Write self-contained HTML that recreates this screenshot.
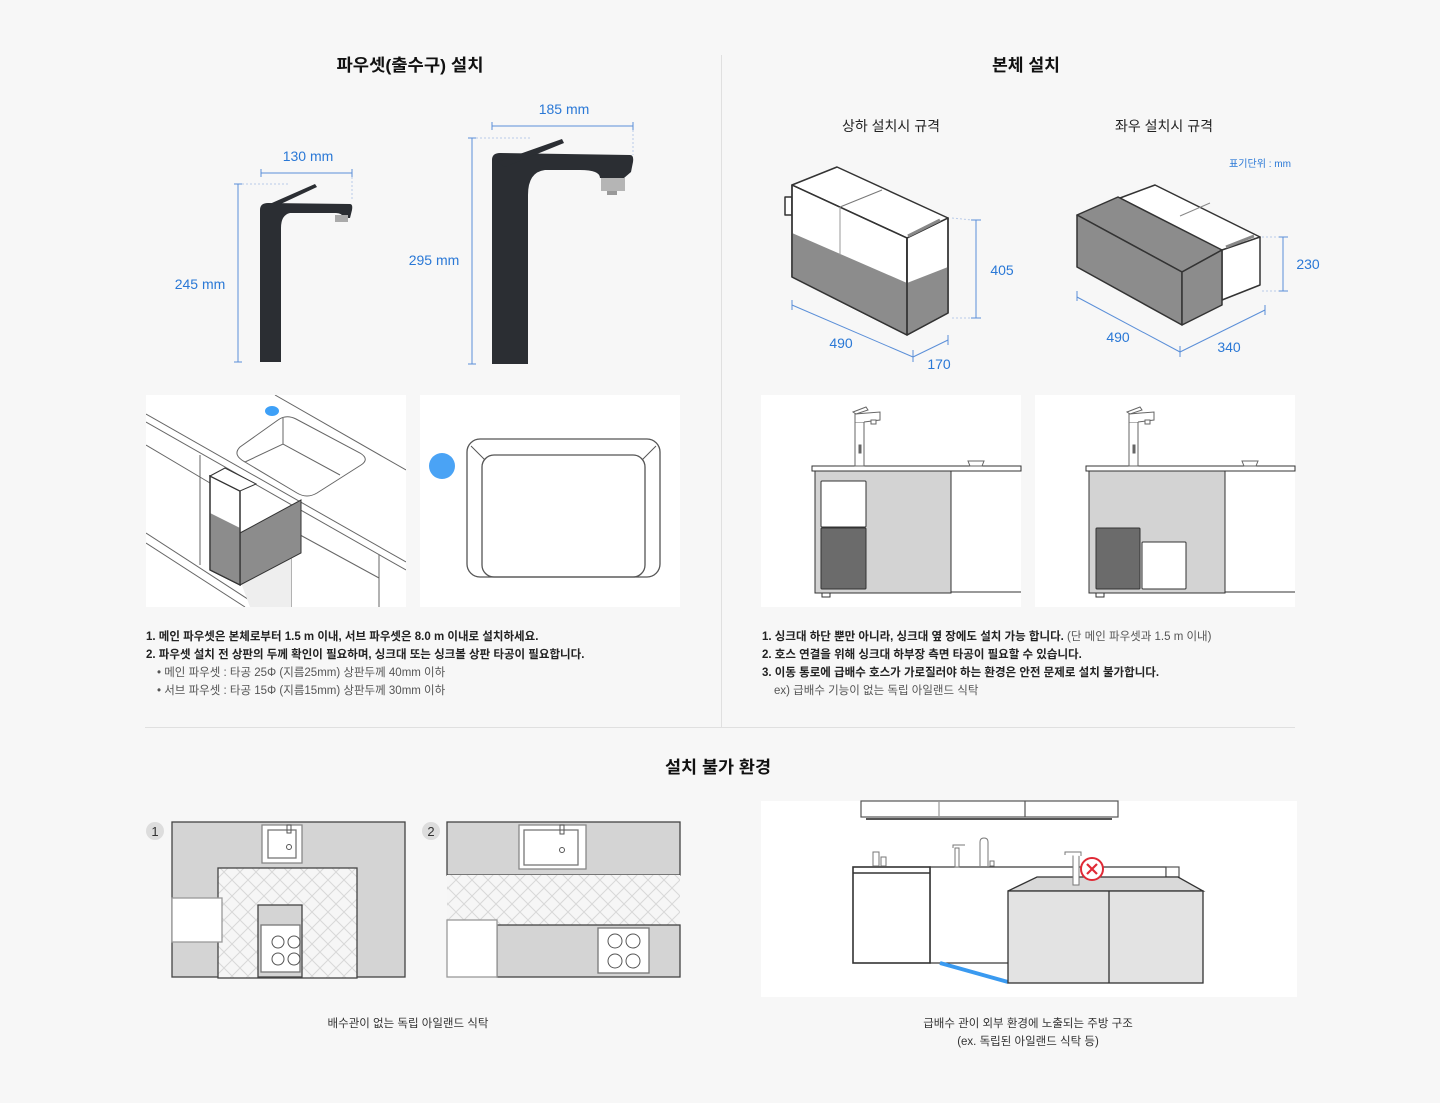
<!DOCTYPE html>
<html><head><meta charset="utf-8">
<style>
html,body{margin:0;padding:0;background:#f7f7f7;}
svg{display:block;}
text{font-family:"Liberation Sans","Noto Sans CJK KR",sans-serif;}
.t{font-size:17px;font-weight:bold;fill:#111;}
.s{font-size:14px;fill:#222;}
.b{font-size:14px;fill:#2a78d6;}
.n{font-size:11.5px;fill:#222;font-weight:bold;}
.g{font-size:11.5px;fill:#555;}
</style></head>
<body>
<svg width="1440" height="1103" viewBox="0 0 1440 1103" xmlns="http://www.w3.org/2000/svg">
<defs>
<pattern id="hb" width="16" height="16" patternUnits="userSpaceOnUse">
<rect width="16" height="16" fill="#f6f6f6"/>
<path d="M0 8 L8 0 M8 16 L16 8 M0 8 L8 16 M8 0 L16 8" stroke="#d8d8d8" stroke-width="1" fill="none"/>
</pattern>
</defs>
<rect width="1440" height="1103" fill="#f7f7f7"/>
<line x1="721.5" y1="55" x2="721.5" y2="727" stroke="#e0e0e0"/>
<line x1="145" y1="727.5" x2="1295" y2="727.5" stroke="#e0e0e0"/>

<text class="t" x="410" y="71" text-anchor="middle" textLength="147" lengthAdjust="spacingAndGlyphs">파우셋(출수구) 설치</text>
<text class="t" x="1026" y="71" text-anchor="middle" textLength="68" lengthAdjust="spacingAndGlyphs">본체 설치</text>
<text class="t" x="718" y="773" text-anchor="middle" textLength="106" lengthAdjust="spacingAndGlyphs">설치 불가 환경</text>
<text class="s" x="891" y="131" text-anchor="middle" textLength="98" lengthAdjust="spacingAndGlyphs">상하 설치시 규격</text>
<text class="s" x="1164" y="131" text-anchor="middle" textLength="98" lengthAdjust="spacingAndGlyphs">좌우 설치시 규격</text>
<text x="1291" y="167" text-anchor="end" style="font-size:10px;fill:#2a78d6" textLength="62" lengthAdjust="spacingAndGlyphs">표기단위 : mm</text>

<!-- small faucet -->
<g stroke="#5b8fd8" stroke-width="1" fill="none">
<line x1="238" y1="184" x2="238" y2="362"/><line x1="234" y1="184" x2="242" y2="184"/><line x1="234" y1="362" x2="242" y2="362"/>
<line x1="261" y1="173" x2="352" y2="173"/><line x1="261" y1="169" x2="261" y2="177"/><line x1="352" y1="169" x2="352" y2="177"/>
<line x1="472" y1="138" x2="472" y2="364"/><line x1="468" y1="138" x2="476" y2="138"/><line x1="468" y1="364" x2="476" y2="364"/>
<line x1="492" y1="126" x2="633" y2="126"/><line x1="492" y1="122" x2="492" y2="130"/><line x1="633" y1="122" x2="633" y2="130"/>
<g stroke-dasharray="2 2" stroke="#b9cbe8"><line x1="242" y1="184" x2="290" y2="184"/><line x1="476" y1="138" x2="530" y2="138"/><line x1="352" y1="177" x2="352" y2="200"/><line x1="633" y1="130" x2="633" y2="155"/></g>
</g>
<text class="b" x="200" y="289" text-anchor="middle">245 mm</text>
<text class="b" x="308" y="161" text-anchor="middle">130 mm</text>
<text class="b" x="434" y="265" text-anchor="middle">295 mm</text>
<text class="b" x="564" y="114" text-anchor="middle">185 mm</text>

<g fill="#2b2e33">
<path d="M260 210 Q260 203 268 203 L350 204 Q353 204 352 210 L350 218 L344 218 Q342 213 336 213 L290 213 Q281 215 281 228 L281 362 L260 362 Z"/>
<path d="M265 206 L315 184 L317 187 L270 209 Z"/>
<path d="M492 160 Q492 153 500 153 L630 155 Q634 155 633 162 L631 172 L624 178 L600 178 Q600 170 580 170 L545 170 Q528 172 528 195 L528 364 L492 364 Z"/>
<path d="M497 162 L562 139 L564 143 L505 167 Z"/>
</g>
<rect x="335" y="215" width="13" height="7" fill="#aaa"/>
<rect x="601" y="178" width="24" height="13" fill="#b5b5b5"/><rect x="607" y="191" width="10" height="4" fill="#999"/>

<!-- boxes -->
<g stroke="#333" stroke-width="1.5" stroke-linejoin="round">
<rect x="785" y="197" width="7" height="18" fill="#fff"/>
<polygon points="792,185 837,167 948,218 907,238" fill="#fff"/>
<polygon points="792,185 907,238 907,335 792,277" fill="#fff"/>
<polygon points="907,238 948,218 948,313 907,335" fill="#fff"/>
<polygon points="792,233 907,283 907,335 792,277" fill="#8c8c8c" stroke="none"/>
<polygon points="907,283 948,267 948,313 907,335" fill="#8c8c8c" stroke="none"/>
<polygon points="792,185 907,238 907,335 792,277" fill="none"/>
<polygon points="907,238 948,218 948,313 907,335" fill="none"/>
</g>
<line x1="840" y1="207" x2="840" y2="255" stroke="#999"/><line x1="840" y1="207" x2="882" y2="190" stroke="#777"/>
<line x1="908" y1="236" x2="940" y2="220" stroke="#888" stroke-width="3"/>

<g stroke="#333" stroke-width="1.5" stroke-linejoin="round">
<polygon points="1120,198 1155,185 1260,237 1222,252" fill="#fff"/>
<polygon points="1222,250 1260,237 1260,285 1222,300" fill="#fff"/>
<polygon points="1077,215 1118,197 1222,250 1182,272" fill="#8c8c8c"/>
<polygon points="1077,215 1182,272 1182,325 1077,267" fill="#8c8c8c"/>
<polygon points="1182,272 1222,250 1222,305 1182,325" fill="#8c8c8c"/>
</g>
<line x1="1180" y1="216" x2="1210" y2="203" stroke="#888"/>
<line x1="1226" y1="247" x2="1254" y2="236" stroke="#888" stroke-width="3"/>

<g stroke="#5b8fd8" stroke-width="1" fill="none">
<line x1="976" y1="220" x2="976" y2="318"/><line x1="971" y1="220" x2="981" y2="220"/><line x1="971" y1="318" x2="981" y2="318"/>
<line x1="792" y1="305" x2="913" y2="357"/><line x1="913" y1="357" x2="948" y2="340"/>
<line x1="792" y1="300" x2="792" y2="310"/><line x1="913" y1="350" x2="913" y2="362"/><line x1="948" y1="335" x2="948" y2="345"/>
<line x1="1283" y1="237" x2="1283" y2="291"/><line x1="1278" y1="237" x2="1288" y2="237"/><line x1="1278" y1="291" x2="1288" y2="291"/>
<line x1="1077" y1="297" x2="1180" y2="352"/><line x1="1180" y1="352" x2="1265" y2="310"/>
<line x1="1077" y1="291" x2="1077" y2="301"/><line x1="1180" y1="346" x2="1180" y2="357"/><line x1="1265" y1="305" x2="1265" y2="315"/>
<g stroke-dasharray="2 2" stroke="#b9cbe8"><line x1="952" y1="218" x2="972" y2="220"/><line x1="952" y1="318" x2="972" y2="318"/><line x1="1262" y1="237" x2="1279" y2="237"/><line x1="1262" y1="291" x2="1279" y2="291"/></g>
</g>
<text class="b" x="1002" y="275" text-anchor="middle">405</text>
<text class="b" x="841" y="348" text-anchor="middle">490</text>
<text class="b" x="939" y="369" text-anchor="middle">170</text>
<text class="b" x="1308" y="269" text-anchor="middle">230</text>
<text class="b" x="1118" y="342" text-anchor="middle">490</text>
<text class="b" x="1229" y="352" text-anchor="middle">340</text>

<!-- panels -->
<rect x="146" y="395" width="260" height="212" fill="#fff"/>
<rect x="420" y="395" width="260" height="212" fill="#fff"/>
<rect x="761" y="395" width="260" height="212" fill="#fff"/>
<rect x="1035" y="395" width="260" height="212" fill="#fff"/>

<svg x="146" y="395" width="260" height="212" viewBox="146 395 260 212" overflow="hidden">
<g stroke="#666" stroke-width="1" fill="none">
<line x1="146" y1="414" x2="406" y2="562"/>
<line x1="146" y1="422" x2="406" y2="570"/>
<line x1="275" y1="395" x2="406" y2="470"/>
<line x1="146" y1="445" x2="210" y2="483"/>
<line x1="146" y1="533" x2="260" y2="607"/>
<line x1="146" y1="543" x2="245" y2="607"/>
<line x1="200" y1="455" x2="200" y2="565"/>
<line x1="291" y1="510" x2="291" y2="607"/>
<line x1="379" y1="555" x2="379" y2="607"/>
<line x1="291" y1="530" x2="379" y2="578"/>
<path d="M240 447 Q232 455 245 462 L297 493 Q307 499 317 493 L361 465 Q370 459 360 453 L296 419 Q286 414 278 420 Z" fill="#fff"/>
<line x1="283" y1="418" x2="283" y2="444"/>
<path d="M245 462 L283 444 L340 475"/>
</g>
<polygon points="240,580 291,555 291,607 250,607" fill="#eee"/>
<polygon points="240,533 301,500 301,553 240,585" fill="#8c8c8c" stroke="#333"/>
<polygon points="210,476 240,491 240,585 210,570" fill="#fff" stroke="#333" stroke-width="1.3"/>
<polygon points="210,513 240,528 240,585 210,570" fill="#8c8c8c"/>
<polygon points="210,476 240,491 240,585 210,570" fill="none" stroke="#333" stroke-width="1.3"/>
<polygon points="210,476 225,468 256,484 240,491" fill="#fff" stroke="#333"/>
<ellipse cx="272" cy="411" rx="7" ry="5" fill="#3ea0f7"/>
</svg>

<circle cx="442" cy="466" r="13" fill="#4aa3f5"/>
<rect x="467" y="439" width="193" height="138" rx="13" fill="none" stroke="#555" stroke-width="1.3"/>
<rect x="482" y="455" width="163" height="122" rx="12" fill="none" stroke="#555" stroke-width="1.3"/>
<line x1="471" y1="446" x2="485" y2="460" stroke="#555"/><line x1="656" y1="446" x2="642" y2="460" stroke="#555"/>

<!-- panel 3/4 -->
<g id="p3" stroke="#333" stroke-width="1">
<rect x="812" y="466" width="209" height="5" fill="#fff"/>
<rect x="815" y="471" width="136" height="122" fill="#d3d3d3"/>
<line x1="951" y1="471" x2="1021" y2="471"/><line x1="951" y1="592" x2="1021" y2="592"/>
<rect x="821" y="481" width="45" height="46" rx="1" fill="#fff"/>
<rect x="821" y="528" width="45" height="61" rx="1" fill="#6b6b6b"/>
<rect x="822" y="593" width="8" height="4" fill="#fff"/>
<path d="M968 461 L984 461 L982 466 L970 466 Z" fill="#fff" stroke="#666"/>
<g stroke="#666" fill="#fff"><rect x="855" y="422" width="9" height="44"/><path d="M855 422 L855 414 L880 412 L880 420 L864 422" /><path d="M853 412 L866 407 L868 410 L856 414 Z"/><rect x="871" y="420" width="5" height="4"/><rect x="859" y="445" width="2" height="8" fill="#666"/></g>
</g>
<g stroke="#333" stroke-width="1">
<rect x="1086" y="466" width="209" height="5" fill="#fff"/>
<rect x="1089" y="471" width="136" height="122" fill="#d3d3d3"/>
<line x1="1225" y1="471" x2="1295" y2="471"/><line x1="1225" y1="592" x2="1295" y2="592"/>
<rect x="1096" y="528" width="44" height="61" rx="1" fill="#6b6b6b"/>
<rect x="1142" y="542" width="44" height="47" rx="1" fill="#fff"/>
<rect x="1096" y="593" width="8" height="4" fill="#fff"/>
<path d="M1242 461 L1258 461 L1256 466 L1244 466 Z" fill="#fff" stroke="#666"/>
<g stroke="#666" fill="#fff"><rect x="1129" y="422" width="9" height="44"/><path d="M1129 422 L1129 414 L1154 412 L1154 420 L1138 422"/><path d="M1127 412 L1140 407 L1142 410 L1130 414 Z"/><rect x="1145" y="420" width="5" height="4"/><rect x="1133" y="445" width="2" height="8" fill="#666"/></g>
</g>

<!-- notes -->
<text class="n" x="146" y="640">1. 메인 파우셋은 본체로부터 1.5 m 이내, 서브 파우셋은 8.0 m 이내로 설치하세요.</text>
<text class="n" x="146" y="658">2. 파우셋 설치 전 상판의 두께 확인이 필요하며, 싱크대 또는 싱크볼 상판 타공이 필요합니다.</text>
<text class="g" x="157" y="676">• 메인 파우셋 : 타공 25Φ (지름25mm) 상판두께 40mm 이하</text>
<text class="g" x="157" y="694">• 서브 파우셋 : 타공 15Φ (지름15mm) 상판두께 30mm 이하</text>
<text class="n" x="762" y="640">1. 싱크대 하단 뿐만 아니라, 싱크대 옆 장에도 설치 가능 합니다. <tspan style="font-weight:normal;fill:#555">(단 메인 파우셋과 1.5 m 이내)</tspan></text>
<text class="n" x="762" y="658">2. 호스 연결을 위해 싱크대 하부장 측면 타공이 필요할 수 있습니다.</text>
<text class="n" x="762" y="676">3. 이동 통로에 급배수 호스가 가로질러야 하는 환경은 안전 문제로 설치 불가합니다.</text>
<text class="g" x="774" y="694">ex) 급배수 기능이 없는 독립 아일랜드 식탁</text>

<!-- plans -->
<circle cx="155" cy="831" r="9" fill="#ddd"/><text x="155" y="836" text-anchor="middle" style="font-size:13px;fill:#333">1</text>
<circle cx="431" cy="831" r="9" fill="#ddd"/><text x="431" y="836" text-anchor="middle" style="font-size:13px;fill:#333">2</text>
<g stroke="#444" stroke-width="1.3">
<rect x="172" y="822" width="233" height="155" fill="#d4d4d4"/>
<rect x="218" y="868" width="139" height="110" fill="url(#hb)"/>
<rect x="172" y="898" width="50" height="44" fill="#fff" stroke="#999"/>
<rect x="258" y="905" width="44" height="72" fill="#d4d4d4"/>
<rect x="261" y="925" width="39" height="47" fill="#fff" stroke="#777"/>
<rect x="262" y="825" width="40" height="38" fill="#fff" stroke="#888"/>
<rect x="268" y="830" width="28" height="28" fill="#fff" stroke="#777"/>
<rect x="447" y="822" width="233" height="53" fill="#d4d4d4"/>
<rect x="447" y="875" width="233" height="50" fill="url(#hb)" stroke="none"/>
<rect x="497" y="925" width="183" height="52" fill="#d4d4d4"/>
<rect x="447" y="920" width="50" height="57" fill="#fff" stroke="#999"/>
<rect x="519" y="825" width="67" height="44" fill="#fff" stroke="#888"/>
<rect x="524" y="830" width="54" height="35" fill="#fff" stroke="#777"/>
<rect x="598" y="928" width="51" height="45" fill="#fff" stroke="#777"/>
</g>
<g fill="none" stroke="#555">
<circle cx="278" cy="942" r="6"/><circle cx="294" cy="942" r="6"/><circle cx="278" cy="959" r="6"/><circle cx="294" cy="959" r="6"/>
<circle cx="615" cy="941" r="7"/><circle cx="633" cy="941" r="7"/><circle cx="615" cy="961" r="7"/><circle cx="633" cy="961" r="7"/>
<circle cx="289" cy="847" r="2.5"/><circle cx="562" cy="850" r="2.5"/>
<rect x="287" y="825" width="4" height="8"/><rect x="560" y="825" width="4" height="9"/>
</g>
<text class="g" x="408" y="1027" text-anchor="middle" style="fill:#333">배수관이 없는 독립 아일랜드 식탁</text>

<!-- kitchen -->
<rect x="761" y="801" width="536" height="196" fill="#fff"/>
<g stroke="#555" stroke-width="1.2">
<rect x="861" y="801" width="257" height="16" fill="#fff"/>
<line x1="939" y1="801" x2="939" y2="817" stroke="#999"/><line x1="1025" y1="801" x2="1025" y2="817"/>
<line x1="866" y1="819" x2="1112" y2="819" stroke-width="2"/>
<rect x="930" y="867" width="236" height="96" fill="#fff" stroke="#333"/>
<rect x="1166" y="867" width="13" height="10" fill="#fff"/>
<rect x="853" y="867" width="77" height="96" fill="#fff" stroke="#333" stroke-width="1.6"/>
<line x1="853" y1="873" x2="930" y2="873" stroke="#333" stroke-width="1.6"/>
</g>
<line x1="940" y1="963" x2="1008" y2="982" stroke="#3a9af0" stroke-width="4"/>
<g stroke="#333" stroke-width="1.3">
<polygon points="1008,891 1037,877 1178,877 1203,891" fill="#d9d9d9"/>
<rect x="1008" y="891" width="195" height="92" fill="#e3e3e3"/>
<line x1="1109" y1="891" x2="1109" y2="983"/>
</g>
<g stroke="#777" fill="#fff" stroke-width="1">
<rect x="873" y="852" width="6" height="14"/><rect x="881" y="857" width="5" height="9"/>
<rect x="955" y="848" width="4" height="19"/><path d="M953 848 L953 845 L965 845"/>
<path d="M980 866 L980 842 Q980 838 984 838 Q988 838 988 842 L988 866"/><rect x="990" y="861" width="4" height="5"/>
<rect x="1073" y="855" width="6" height="30"/><path d="M1065 855 L1065 852 L1081 852 L1081 856"/>
</g>
<circle cx="1092" cy="869" r="11" fill="#fff" stroke="#e02a36" stroke-width="2"/>
<path d="M1087 864 L1097 874 M1097 864 L1087 874" stroke="#e02a36" stroke-width="2.2"/>
<text class="g" x="1028" y="1027" text-anchor="middle" style="fill:#333">급배수 관이 외부 환경에 노출되는 주방 구조</text>
<text class="g" x="1028" y="1045" text-anchor="middle" style="fill:#333">(ex. 독립된 아일랜드 식탁 등)</text>
</svg>
</body></html>
